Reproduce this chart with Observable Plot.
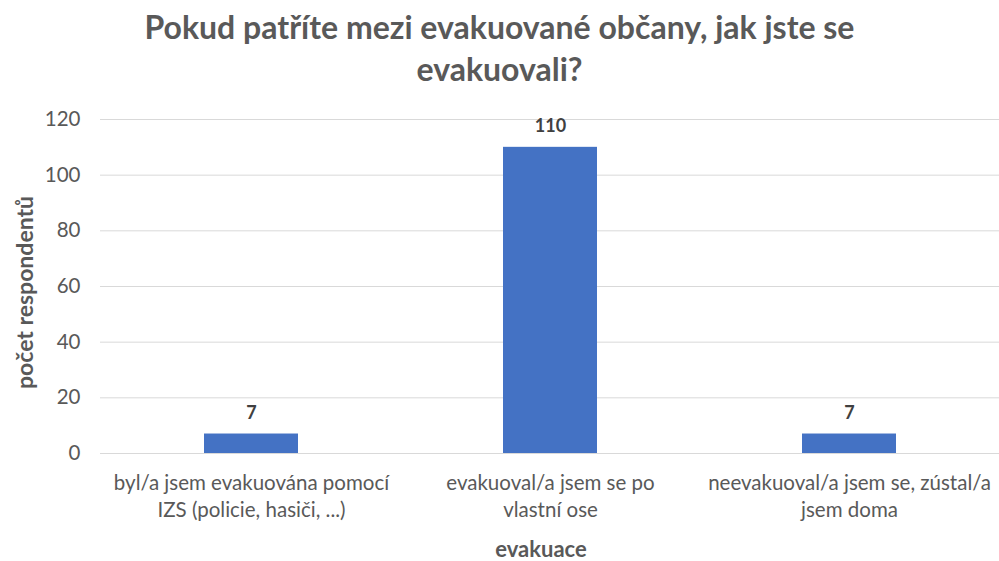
<!DOCTYPE html>
<html>
<head>
<meta charset="utf-8">
<script src="https://cdn.jsdelivr.net/npm/d3@7"></script>
<script src="https://cdn.jsdelivr.net/npm/@observablehq/plot@0.6"></script>
<style>
  body { margin: 0; background: #fff; }
  #wrap { position: relative; width: 999px; height: 561px; font-family: Lato, "Open Sans", sans-serif; }
  #title { position: absolute; top: 6px; left: 0; width: 999px; text-align: center; font-size: 32px; font-weight: bold; color: #595959; line-height: 42px; }
  #chart { position: absolute; top: 0; left: 0; }
</style>
</head>
<body>
<div id="wrap">
  <div id="chart"></div>
  <div id="title">Pokud patříte mezi evakuované občany, jak jste se<br>evakuovali?</div>
</div>
<script>
const categories = [
  "byl/a jsem evakuována pomocí IZS (policie, hasiči, ...)",
  "evakuoval/a jsem se po vlastní ose",
  "neevakuoval/a jsem se, zústal/a jsem doma"
];
const tickLabels = [
  "byl/a jsem evakuována pomocí\nIZS (policie, hasiči, ...)",
  "evakuoval/a jsem se po\nvlastní ose",
  "neevakuoval/a jsem se, zústal/a\njsem doma"
];
const values = [7, 110, 7];
const yTicks = [0, 20, 40, 60, 80, 100, 120];
const yLabel = "počet respondentů";
const xLabel = "evakuace";

const data = categories.map((c, i) => ({category: c, value: values[i], label: tickLabels[i]}));
const labelMap = new Map(categories.map((c, i) => [c, tickLabels[i]]));

const chart = Plot.plot({
  width: 999,
  height: 561,
  marginTop: 119,
  marginBottom: 108,
  marginLeft: 100,
  marginRight: 0,
  style: { fontFamily: "Lato, 'Open Sans', sans-serif", color: "#595959", background: "transparent" },
  x: { domain: categories, paddingInner: 0.687, paddingOuter: 0.3435, label: null },
  y: { domain: [0, 120], label: null },
  marks: [
    Plot.gridY(yTicks, { stroke: "#d9d9d9", strokeOpacity: 1, strokeWidth: 1 }),
    Plot.axisY(yTicks, { tickSize: 0, tickPadding: 20, fontSize: 20.5, fill: "#595959", label: null }),
    Plot.axisX({ tickSize: 0, tickPadding: 18, fontSize: 20.5, fill: "#595959", lineHeight: 1.3, tickFormat: d => labelMap.get(d), label: null }),
    Plot.barY(data, { x: "category", y: "value", fill: "#4472C4" }),
    Plot.text(data, { x: "category", y: "value", text: d => String(d.value), dy: -21, fontSize: 18, fontWeight: "bold", fill: "#404040" }),
    Plot.text([yLabel], { frameAnchor: "left", textAnchor: "middle", dx: -75, dy: 6, rotate: -90, fontSize: 23, fontWeight: "bold", fill: "#595959", text: d => d }),
    Plot.text([xLabel], { frameAnchor: "bottom", dx: -9, dy: 103, fontSize: 22, fontWeight: "bold", fill: "#595959", text: d => d })
  ]
});
document.getElementById("chart").append(chart);
</script>
</body>
</html>
